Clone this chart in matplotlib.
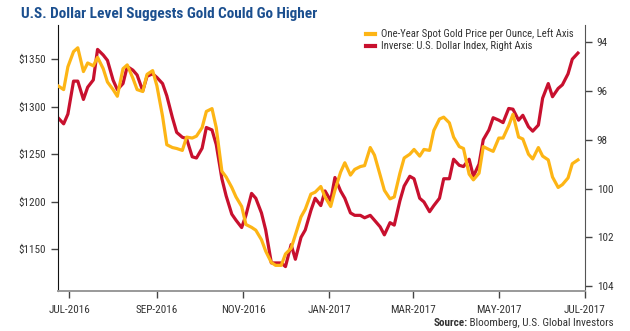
import numpy as np
import pandas as pd
import matplotlib
matplotlib.use("Agg")
import matplotlib.pyplot as plt
import matplotlib.dates as mdates

# Mon/Thu sampling, Jun 23 2016 .. Jun 26 2017
dates = pd.date_range("2016-06-23", "2017-06-26", freq="D")
dates = dates[dates.dayofweek.isin([0, 3])]

# one-year spot gold, USD per ounce (left axis)
gold = [1322, 1318, 1342, 1358, 1362, 1337, 1346, 1343, 1352, 1340,
        1326, 1318, 1311, 1340, 1344, 1330, 1318, 1316, 1334, 1338,
        1322, 1290, 1260, 1257, 1256, 1254, 1268, 1267, 1269, 1278,
        1295, 1298, 1278, 1232, 1226, 1215, 1205, 1195, 1176, 1173,
        1170, 1160, 1148, 1136, 1133, 1133, 1145, 1151, 1165, 1184,
        1192, 1208, 1210, 1216, 1205, 1195, 1212, 1231, 1241, 1228,
        1234, 1237, 1238, 1257, 1249, 1228, 1212, 1203, 1205, 1230,
        1246, 1250, 1255, 1248, 1255, 1254, 1275, 1287, 1289, 1283,
        1268, 1258, 1256, 1229, 1223, 1230, 1258, 1255, 1253, 1267,
        1267, 1280, 1292, 1268, 1266, 1250, 1245, 1257, 1248, 1244,
        1226, 1215, 1218, 1225, 1240, 1244]

# U.S. dollar index (right axis, drawn inverted)
dxy = [97.1, 97.35, 96.95, 95.6, 95.6, 96.35, 95.85, 95.55, 94.3, 94.53,
       94.75, 95.56, 95.95, 95.7, 95.0, 95.15, 95.35, 96.0, 95.4, 95.3,
       95.45, 95.7, 96.2, 97.1, 97.7, 97.9, 97.95, 98.7, 98.75, 98.35,
       97.5, 97.6, 98.2, 99.6, 100.3, 101.05, 101.3, 101.6, 101.1, 100.2,
       100.4, 101.0, 101.7, 103.05, 103.05, 103.05, 103.2, 102.3, 102.9, 102.0,
       101.7, 100.9, 100.4, 100.7, 100.1, 100.5, 99.55, 100.1, 100.4, 101.0,
       101.1, 101.1, 101.2, 101.1, 101.3, 101.57, 101.9, 101.4, 101.5, 100.5,
       99.9, 99.5, 99.6, 100.4, 100.55, 100.95, 100.7, 100.4, 99.6, 99.6,
       98.8, 99.05, 99.1, 98.8, 99.5, 99.0, 98.0, 97.6, 97.1, 97.2,
       97.3, 96.72, 96.75, 97.2, 97.0, 97.47, 97.65, 97.4, 96.3, 95.7,
       96.24, 95.9, 95.75, 95.3, 94.7, 94.45]

gold_ticks = [1150, 1200, 1250, 1300, 1350]
dxy_ticks = [94, 96, 98, 100, 102, 104]
x_ticks = ["2016-07-01", "2016-09-01", "2016-11-01", "2017-01-01",
           "2017-03-01", "2017-05-01", "2017-07-01"]

assert len(dates) == len(gold) == len(dxy)

GOLD = "#fdb515"
RED = "#c8102e"
TXT = "#333333"
plt.rcParams["font.family"] = ["Roboto Condensed", "Noto Sans", "DejaVu Sans"]
plt.rcParams["font.stretch"] = "condensed"

fig = plt.figure(figsize=(6.3, 3.31), dpi=100)
ax = fig.add_axes([58/630, 1-291/331, (585-58)/630, (291-25)/331])
ax2 = ax.twinx()

ax.plot(dates, gold, color=GOLD, lw=2.3, solid_joinstyle="round",
        label="One-Year Spot Gold Price per Ounce, Left Axis", zorder=3)
ax2.plot(dates, dxy, color=RED, lw=2.3, solid_joinstyle="round",
         label="Inverse: U.S. Dollar Index, Right Axis", zorder=2)
ax.set_zorder(ax2.get_zorder() + 1)
ax.patch.set_visible(False)

ax.set_ylim(1106, 1386)
ax2.set_ylim(104.2, 93.3)
ax.set_xlim(pd.Timestamp("2016-06-23"), pd.Timestamp("2017-07-01"))

ax.set_yticks(gold_ticks)
ax.set_yticklabels(["$%d" % v for v in gold_ticks])
ax2.set_yticks(dxy_ticks)
xt = pd.to_datetime(x_ticks)
ax.set_xticks(xt)
ax.set_xticklabels([d.strftime("%b-%Y").upper() for d in xt])

for a in (ax, ax2):
    a.spines["top"].set_visible(False)
    a.tick_params(colors="#444444", labelcolor=TXT, labelsize=8, length=5, width=1)
ax.spines["left"].set_color("#111111")
ax.spines["bottom"].set_color("#999999")
ax.spines["bottom"].set_linewidth(1.4)
ax2.spines["right"].set_color("#555555")
ax2.spines["left"].set_visible(False)
ax2.spines["bottom"].set_visible(False)
ax.spines["right"].set_visible(False)
ax.tick_params(axis="x", pad=5)

h1, l1 = ax.get_legend_handles_labels()
h2, l2 = ax2.get_legend_handles_labels()
leg = ax.legend(h1 + h2, l1 + l2, loc="upper left", bbox_to_anchor=(361/630, 1-23/331),
                bbox_transform=fig.transFigure, frameon=False, fontsize=7.7,
                handlelength=0.85, handletextpad=0.55, labelspacing=0.2, borderpad=0)
for t in leg.get_texts():
    t.set_color(TXT)
for h in leg.get_lines():
    h.set_linewidth(3)

fig.text(21/630, 1-18/331, "U.S. Dollar Level Suggests Gold Could Go Higher",
         fontsize=11, fontweight="bold", color="#1b4f8f", ha="left", va="baseline")

src = fig.text(614/630, 1-326/331, " Bloomberg, U.S. Global Investors",
               fontsize=8, color=TXT, ha="right", va="baseline")
fig.canvas.draw()
bb = src.get_window_extent().transformed(fig.transFigure.inverted())
fig.text(bb.x0, 1-326/331, "Source:", fontsize=8, fontweight="bold", color=TXT,
         ha="right", va="baseline")

fig.savefig("out.png", dpi=100)
